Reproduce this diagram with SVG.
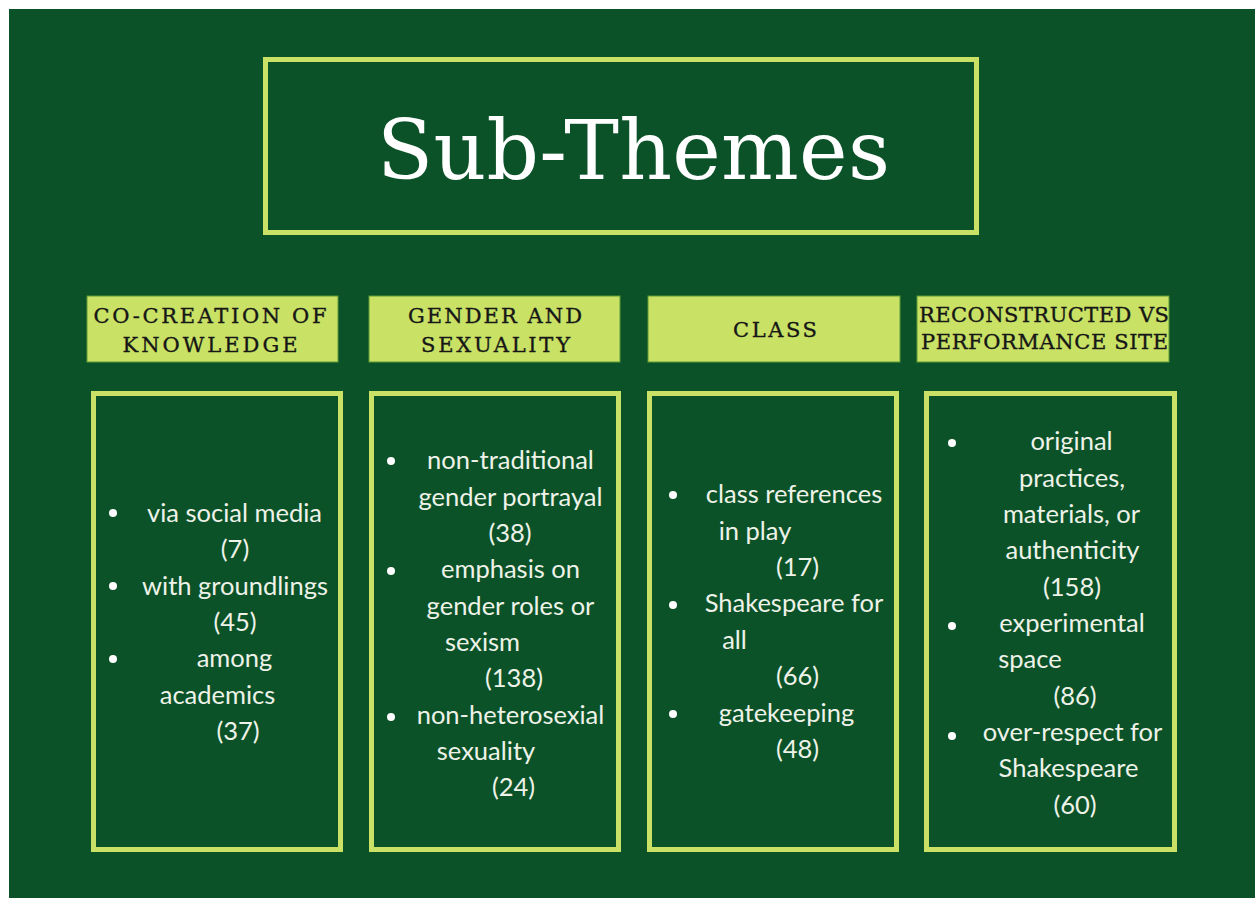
<svg xmlns="http://www.w3.org/2000/svg" width="1255" height="898" viewBox="0 0 1255 898">
  <style>
    .frame { fill: none; stroke: #c9e265; stroke-width: 5; }
    .head { fill: #c9e265; stroke: #5f9a32; stroke-width: 1; }
    .title { font-family: "DejaVu Serif", "Liberation Serif", serif; font-size: 82px; fill: #ffffff; }
    .htxt { font-family: "DejaVu Serif", "Liberation Serif", serif; font-size: 21px; fill: #161616; stroke: #161616; stroke-width: 0.35; text-anchor: middle; }
    .item { font-family: Lato, "Noto Sans", sans-serif; font-size: 25.5px; fill: #eef2e8; text-anchor: middle; }
    .dot { fill: #ffffff; }
  </style>

  <rect x="0" y="0" width="1255" height="898" fill="#ffffff"/>
  <rect x="9" y="9" width="1246" height="889" fill="#0b5229"/>

  <g id="title">
    <rect class="frame" x="265.5" y="59.5" width="711" height="173"/>
    <text class="title" x="377" y="179" textLength="513" lengthAdjust="spacing">Sub-Themes</text>
  </g>

  <!-- column headers -->
  <g id="head-cocreation">
    <rect class="head" x="87" y="296" width="251" height="66"/>
    <text class="htxt" x="210" y="323" textLength="233" lengthAdjust="spacing">CO-CREATION OF</text>
    <text class="htxt" x="210" y="352" textLength="175" lengthAdjust="spacing">KNOWLEDGE</text>
  </g>
  <g id="head-gender">
    <rect class="head" x="369" y="296" width="251" height="66"/>
    <text class="htxt" x="495" y="323" textLength="174" lengthAdjust="spacing">GENDER AND</text>
    <text class="htxt" x="495.5" y="352" textLength="149" lengthAdjust="spacing">SEXUALITY</text>
  </g>
  <g id="head-class">
    <rect class="head" x="648" y="296" width="252" height="66"/>
    <text class="htxt" x="775" y="337" textLength="84" lengthAdjust="spacing">CLASS</text>
  </g>
  <g id="head-reconstructed">
    <rect class="head" x="917" y="296" width="252" height="66"/>
    <text class="htxt" x="1044" y="322" textLength="250" lengthAdjust="spacing">RECONSTRUCTED VS</text>
    <text class="htxt" x="1044.5" y="349" textLength="247" lengthAdjust="spacing">PERFORMANCE SITE</text>
  </g>

  <!-- column contents -->
  <g id="list-cocreation">
    <rect class="frame" x="93.5" y="393.5" width="247" height="456"/>
    <circle class="dot" cx="113" cy="513" r="4"/>
    <circle class="dot" cx="113" cy="586" r="4"/>
    <circle class="dot" cx="113" cy="659" r="4"/>
    <text class="item" x="234.5" y="522">via social media</text>
    <text class="item" x="235" y="558">(7)</text>
    <text class="item" x="235" y="594.5">with groundlings</text>
    <text class="item" x="235" y="631">(45)</text>
    <text class="item" x="234.5" y="667">among</text>
    <text class="item" x="217.5" y="703.5">academics</text>
    <text class="item" x="238" y="740">(37)</text>
  </g>

  <g id="list-gender">
    <rect class="frame" x="371.5" y="393.5" width="247" height="456"/>
    <circle class="dot" cx="391" cy="461" r="4"/>
    <circle class="dot" cx="391" cy="571" r="4"/>
    <circle class="dot" cx="391" cy="717" r="4"/>
    <text class="item" x="510.5" y="469">non-traditional</text>
    <text class="item" x="510.5" y="505.5">gender portrayal</text>
    <text class="item" x="510" y="542">(38)</text>
    <text class="item" x="510.5" y="578">emphasis on</text>
    <text class="item" x="510.5" y="614.5">gender roles or</text>
    <text class="item" x="482.5" y="651">sexism</text>
    <text class="item" x="514" y="687">(138)</text>
    <text class="item" x="510.5" y="723.5">non-heterosexial</text>
    <text class="item" x="486" y="760">sexuality</text>
    <text class="item" x="513.5" y="796">(24)</text>
  </g>

  <g id="list-class">
    <rect class="frame" x="649.5" y="393.5" width="247" height="456"/>
    <circle class="dot" cx="673" cy="495" r="4"/>
    <circle class="dot" cx="673" cy="605" r="4"/>
    <circle class="dot" cx="673" cy="714" r="4"/>
    <text class="item" x="794" y="503">class references</text>
    <text class="item" x="755" y="539.5">in play</text>
    <text class="item" x="797.5" y="576">(17)</text>
    <text class="item" x="794" y="612">Shakespeare for</text>
    <text class="item" x="734.5" y="648.5">all</text>
    <text class="item" x="797.5" y="685">(66)</text>
    <text class="item" x="786.5" y="721.5">gatekeeping</text>
    <text class="item" x="797.5" y="758">(48)</text>
  </g>

  <g id="list-reconstructed">
    <rect class="frame" x="926.5" y="393.5" width="248" height="456"/>
    <circle class="dot" cx="952" cy="443" r="4"/>
    <circle class="dot" cx="952" cy="626" r="4"/>
    <circle class="dot" cx="952" cy="736" r="4"/>
    <text class="item" x="1071.5" y="450">original</text>
    <text class="item" x="1072" y="486.5">practices,</text>
    <text class="item" x="1071.5" y="523">materials, or</text>
    <text class="item" x="1072.5" y="559">authenticity</text>
    <text class="item" x="1072" y="595.5">(158)</text>
    <text class="item" x="1072" y="632">experimental</text>
    <text class="item" x="1030" y="668">space</text>
    <text class="item" x="1075" y="704.5">(86)</text>
    <text class="item" x="1072.5" y="741">over-respect for</text>
    <text class="item" x="1068.5" y="777">Shakespeare</text>
    <text class="item" x="1075" y="813.5">(60)</text>
  </g>
</svg>
